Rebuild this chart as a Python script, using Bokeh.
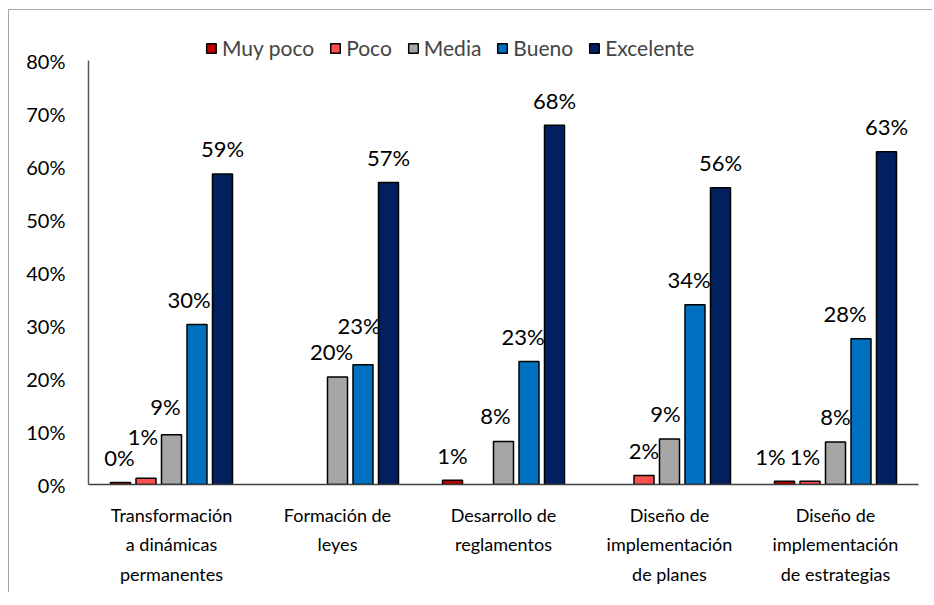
import numpy as np
from bokeh.plotting import figure
from bokeh.models import (Range1d, FixedTicker, NumeralTickFormatter, Legend, LegendItem,
                          ColumnDataSource)
from bokeh.core.properties import value
from bokeh.embed import file_html
from bokeh.resources import INLINE

# ---------------- data ----------------
categories = ["Transformación\na dinámicas\npermanentes",
              "Formación de\nleyes",
              "Desarrollo de\nreglamentos",
              "Diseño de\nimplementación\nde planes",
              "Diseño de\nimplementación\nde estrategias"]
series = ["Muy poco", "Poco", "Media", "Bueno", "Excelente"]
# percent values (NaN = no bar / no label)
muy_poco = [0.4, np.nan, 0.8, np.nan, 0.6]
poco = [1.2, np.nan, np.nan, 1.7, 0.6]
media = [9.4, 20.3, 8.1, 8.6, 8.0]
bueno = [30.2, 22.6, 23.2, 33.9, 27.5]
excelente = [58.6, 57.0, 67.8, 56.0, 62.8]
y_ticks = [0, 0.1, 0.2, 0.3, 0.4, 0.5, 0.6, 0.7, 0.8]

values = [muy_poco, poco, media, bueno, excelente]
colors = ["#C00000", "#FF5050", "#A6A6A6", "#0070C0", "#002060"]

# label nudges (screen px) to mimic the manually placed labels
label_dx = [[-1, 0, 0, 0, -14],
            [-3, 0, 0, 0, -5],
            [-6, -6, -8, -4, 0],
            [-8, -4, -6, -6, -16],
            [0, 0, 0, 0, 0]]
label_dy = [[0, 0, 0, 0, 0],
            [-17, 0, 0, 0, 0],
            [-3, 0, -1, 0, -1],
            [0, -14, 0, 0, 0],
            [0, 0, 0, 0, 0]]

FONT = "Lato"

# layout: 10% = 53 px, frame tall enough so that the legend fits inside the frame
frame_h = 470
y_top = frame_h / 530.0

p = figure(width=924, height=583, output_backend="svg", toolbar_location=None,
           x_range=Range1d(-0.5, 4.5), y_range=Range1d(0, y_top),
           min_border_left=79, min_border_right=15, min_border_top=4, min_border_bottom=109,
           styles={"border-top": "1px solid #A6A6A6", "border-left": "1px solid #A6A6A6",
                   "margin-top": "9px", "margin-left": "8px"})
p.outline_line_color = None
p.grid.visible = False
p.background_fill_color = "white"
p.border_fill_color = "white"

step = 0.1536
bw = 0.1205
items = []
for i, (name, vals, col) in enumerate(zip(series, values, colors)):
    v = np.array(vals, dtype=float)
    idx = np.where(~np.isnan(v))[0]
    xs = idx + (i - 2) * step
    tops = v[idx] / 100.0
    labels = [f"{int(round(t))}%" for t in v[idx]]
    src = ColumnDataSource(dict(x=xs, top=tops, lab=labels,
                                dx=[label_dx[i][k] for k in idx],
                                dy=[-25 + label_dy[i][k] for k in idx]))
    r = p.vbar(x="x", top="top", bottom=0, width=bw, source=src,
               fill_color=col, line_color="black", line_width=1.5)
    p.text(x="x", y="top", text="lab", source=src, x_offset="dx", y_offset="dy",
           text_align="center", text_baseline="middle", text_font=value(FONT),
           text_font_size="22px", text_color="black")
    items.append(LegendItem(label=name, renderers=[r]))

legend = Legend(items=items, orientation="horizontal", location=(117, 424),
                glyph_width=12, glyph_height=12, label_standoff=5, spacing=15,
                padding=0, margin=0, border_line_color=None, background_fill_alpha=0,
                label_text_font=FONT, label_text_font_size="21px", label_height=22)
p.add_layout(legend, "center")

# y axis
p.yaxis.ticker = FixedTicker(ticks=y_ticks)
p.yaxis.bounds = (0, 0.8)
p.yaxis.formatter = NumeralTickFormatter(format="0%")
p.yaxis.major_tick_line_color = None
p.yaxis.major_tick_out = 0
p.yaxis.major_tick_in = 0
p.yaxis.minor_tick_line_color = None
p.yaxis.major_label_standoff = 23
p.yaxis.axis_line_color = "#595959"
p.yaxis.axis_line_width = 1.5
p.yaxis.major_label_text_font = FONT
p.yaxis.major_label_text_font_size = "20px"
p.yaxis.major_label_text_color = "black"

# x axis
p.xaxis.ticker = FixedTicker(ticks=list(range(len(categories))))
p.xaxis.major_label_overrides = {i: c for i, c in enumerate(categories)}
p.xaxis.major_tick_line_color = None
p.xaxis.major_tick_out = 0
p.xaxis.major_tick_in = 0
p.xaxis.minor_tick_line_color = None
p.xaxis.axis_line_color = "#404040"
p.xaxis.axis_line_width = 1.5
p.xaxis.major_label_standoff = 19
p.xaxis.major_label_text_font = FONT
p.xaxis.major_label_text_font_size = "18px"
p.xaxis.major_label_text_line_height = 1.35
p.xaxis.major_label_text_color = "black"

open("out.html", "w").write(file_html(p, INLINE))
